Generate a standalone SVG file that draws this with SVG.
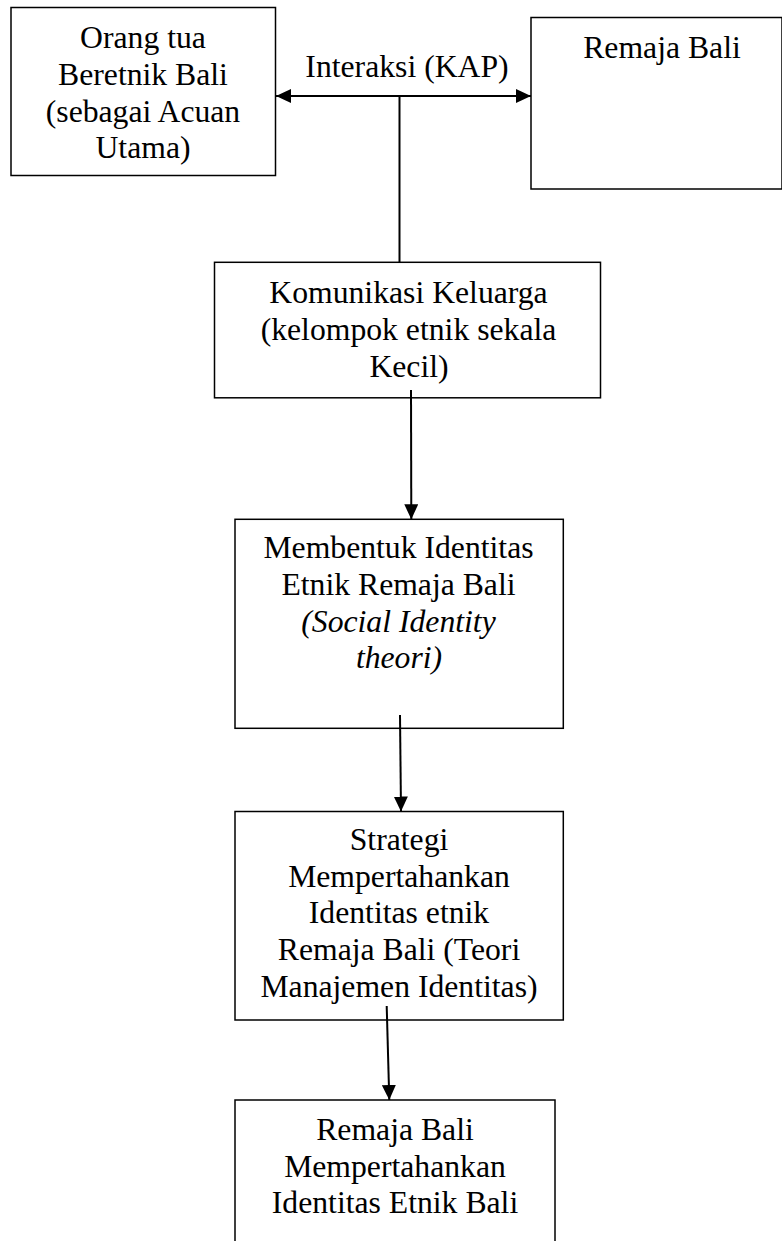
<svg xmlns="http://www.w3.org/2000/svg" width="782" height="1241" viewBox="0 0 782 1241">
<style>
.box{fill:#fff;stroke:#000;stroke-width:1.5}
.t{font-family:"Liberation Serif","Times New Roman",serif;font-size:31.7px;fill:#000;text-anchor:middle}
.i{font-style:italic}
.c{fill:none;stroke:#000;stroke-width:2}
</style>
<defs>
<marker id="ah" markerUnits="userSpaceOnUse" markerWidth="15" markerHeight="14" refX="15" refY="7" orient="auto-start-reverse" viewBox="0 0 15 14">
<path d="M0,0 L15,7 L0,14 z" fill="#000"/>
</marker>
</defs>
<rect width="782" height="1241" fill="#fff"/>
<g id="node-orangtua">
<rect class="box" x="11" y="7.5" width="264.5" height="168"/>
<text class="t" x="143" y="48.3">Orang tua</text>
<text class="t" x="143" y="85">Beretnik Bali</text>
<text class="t" x="143" y="121.7">(sebagai Acuan</text>
<text class="t" x="143" y="158.3">Utama)</text>
</g>
<g id="node-remaja">
<rect class="box" x="531" y="17.5" width="251" height="171.5"/>
<text class="t" x="662" y="58.3">Remaja Bali</text>
</g>
<g id="node-komunikasi">
<rect class="box" x="214.5" y="262.3" width="386" height="135.5"/>
<text class="t" x="408.5" y="303.3">Komunikasi Keluarga</text>
<text class="t" x="408.5" y="340">(kelompok etnik sekala</text>
<text class="t" x="409" y="376.7">Kecil)</text>
</g>
<g id="node-membentuk">
<rect class="box" x="235" y="519.3" width="328.3" height="209"/>
<text class="t" x="398.5" y="558.3">Membentuk Identitas</text>
<text class="t" x="398.5" y="595">Etnik Remaja Bali</text>
<text class="t i" x="398.5" y="631.7">(Social Identity</text>
<text class="t i" x="399" y="668.3">theori)</text>
</g>
<g id="node-strategi">
<rect class="box" x="235" y="811.5" width="328.3" height="208.5"/>
<text class="t" x="399" y="850">Strategi</text>
<text class="t" x="399" y="886.7">Mempertahankan</text>
<text class="t" x="399" y="923.3">Identitas etnik</text>
<text class="t" x="399" y="960">Remaja Bali (Teori</text>
<text class="t" x="399" y="996.7">Manajemen Identitas)</text>
</g>
<g id="node-hasil">
<rect class="box" x="235" y="1100" width="320" height="160"/>
<text class="t" x="395" y="1140">Remaja Bali</text>
<text class="t" x="395" y="1176.7">Mempertahankan</text>
<text class="t" x="395" y="1213.3">Identitas Etnik Bali</text>
</g>
<g id="connectors">
<text class="t" x="407" y="77.3">Interaksi (KAP)</text>
<line class="c" x1="276" y1="96" x2="531" y2="96" marker-start="url(#ah)" marker-end="url(#ah)"/>
<line class="c" x1="399.5" y1="96" x2="399.5" y2="262.3"/>
<line class="c" x1="411" y1="390" x2="411.3" y2="519.3" marker-end="url(#ah)"/>
<line class="c" x1="400" y1="715" x2="401" y2="811.5" marker-end="url(#ah)"/>
<line class="c" x1="386.7" y1="1006" x2="389.3" y2="1100" marker-end="url(#ah)"/>
</g>
</svg>
